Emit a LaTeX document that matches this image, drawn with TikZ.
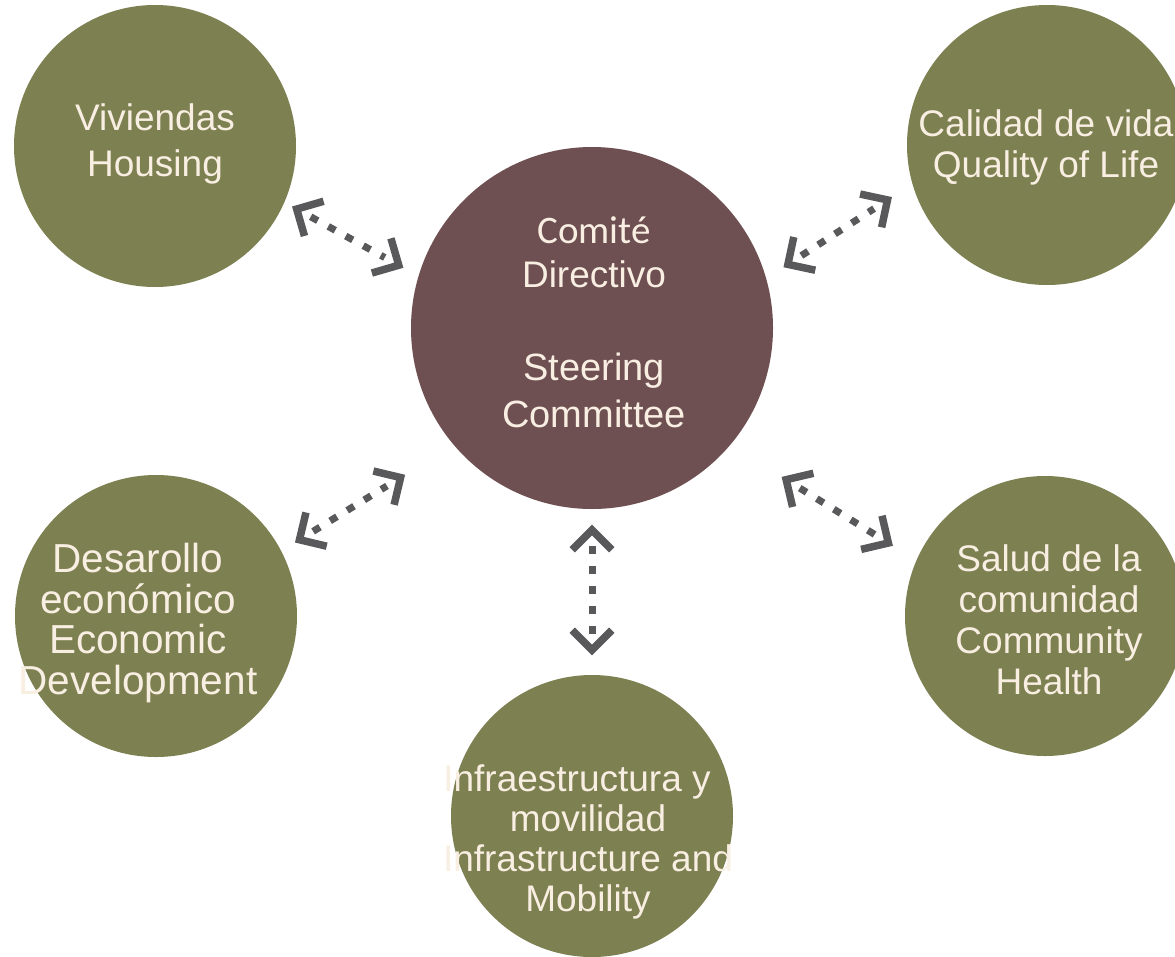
\documentclass[tikz,border=0pt]{standalone}
\usepackage{fontspec}
\setmainfont{Liberation Sans}
\newfontfamily\carlito{Carlito}
\usetikzlibrary{calc}
\definecolor{olivec}{RGB}{125,128,80}
\definecolor{brownc}{RGB}{110,79,82}
\definecolor{creamc}{RGB}{248,238,226}
\definecolor{arrowgrey}{RGB}{89,88,90}
\tikzset{
  outer/.style={circle, fill=olivec, draw=none, inner sep=0pt, minimum size=282pt},
  hub/.style={circle, fill=brownc, draw=none, inner sep=0pt, minimum size=362pt},
  txt/.style={text=creamc, align=center, inner sep=0pt, font=\fontsize{37}{44}\selectfont},
  shaft/.style={draw=arrowgrey, line width=7pt, dash pattern=on 8pt off 12pt, shorten <=16pt, shorten >=16pt},
  chev/.style={draw=arrowgrey, line width=7.5pt, line join=miter, line cap=butt}
}
\newcommand\dblarr[2]{%
  \draw[shaft] (#1) -- (#2);
  \draw[chev] ($(#1)!28pt!45:(#2)$) -- (#1) -- ($(#1)!28pt!-45:(#2)$);
  \draw[chev] ($(#2)!28pt!45:(#1)$) -- (#2) -- ($(#2)!28pt!-45:(#1)$);
}
\begin{document}
\begin{tikzpicture}[x=1pt,y=-1pt]
\useasboundingbox (0,0) rectangle (1175,956);
\clip (0,0) rectangle (1175,956);
\fill[white] (0,0) rectangle (1175,956);

% circles
\node[hub] (com) at (592,328) {};
\node[outer] (viv) at (155,146) {};
\node[outer, minimum size=280pt] (cal) at (1047,145) {};
\node[outer] (des) at (156,616) {};
\node[outer, minimum size=280pt] (sal) at (1045,616) {};
\node[outer] (inf) at (592,816) {};

% texts
\node[txt] (comT1) at (594,252) {\carlito\fontsize{39}{47}\selectfont Comité\\Directivo};
\node[txt, font=\fontsize{38}{47}\selectfont] (comT2) at (594,390) {Steering\\Committee};
\node[txt, font=\fontsize{37}{46}\selectfont] (vivT) at (155,144) {Viviendas\\Housing};
\node[txt, font=\fontsize{37}{41}\selectfont] (calT) at (1046,147) {Calidad de vida\\Quality of Life};
\node[txt, font=\fontsize{40.5}{40.5}\selectfont] (desT) at (138,623) {Desarollo\\económico\\Economic\\Development};
\node[txt, font=\fontsize{37}{41}\selectfont] (salT) at (1049,620) {Salud de la\\comunidad\\Community\\Health};
\node[txt, font=\fontsize{37}{40}\selectfont] (infT) at (588,842) {Infraestructura y\kern22pt\\movilidad\\Infrastructure and\\Mobility};

% arrow end points
\coordinate (a1v) at ($(viv.center)!155.1pt!(viv.336.6)$);
\coordinate (a1c) at ($(com.center)!203.2pt!(com.162.9)$);
\coordinate (a2c) at ($(com.center)!206pt!(com.18.6)$);
\coordinate (a2q) at ($(cal.center)!168.7pt!(cal.199.2)$);
\coordinate (a3d) at ($(des.center)!162.5pt!(des.28.1)$);
\coordinate (a3c) at ($(com.center)!242.9pt!(com.218)$);
\coordinate (a4c) at ($(com.center)!246.4pt!(com.322)$);
\coordinate (a4s) at ($(sal.center)!172.8pt!(sal.155.5)$);
\coordinate (a5c) at ($(com.center)!202pt!(com.270.6)$);
\coordinate (a5i) at ($(inf.center)!166pt!(inf.90.7)$);

\dblarr{a1v}{a1c}
\dblarr{a2c}{a2q}
\dblarr{a3d}{a3c}
\dblarr{a4c}{a4s}
\dblarr{a5c}{a5i}
\end{tikzpicture}
\end{document}
